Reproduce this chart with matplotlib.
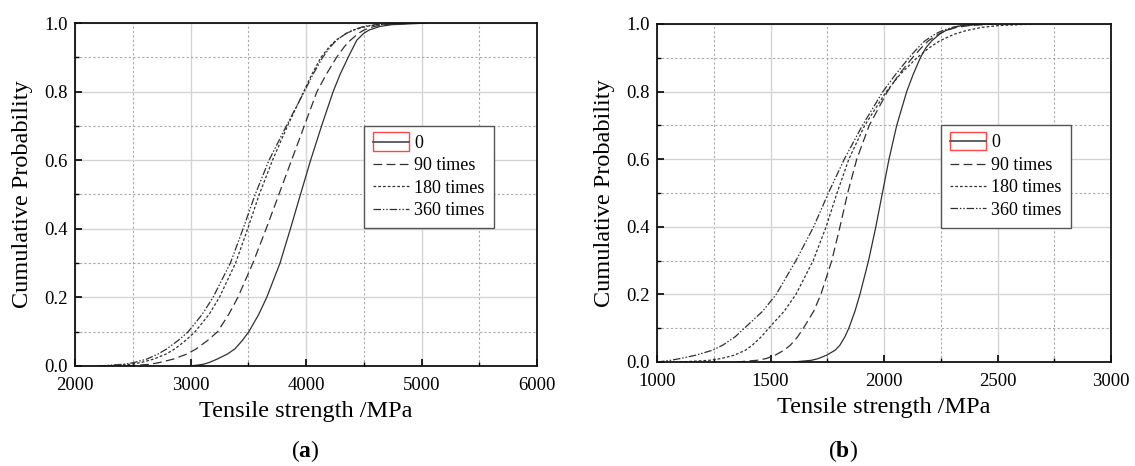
import matplotlib
matplotlib.use("Agg")
import matplotlib.pyplot as plt
from matplotlib.lines import Line2D
from matplotlib.patches import Rectangle
from matplotlib.legend_handler import HandlerBase
from matplotlib.ticker import MultipleLocator

plt.rcParams['font.family'] = ['Liberation Serif', 'DejaVu Serif']
plt.rcParams['mathtext.fontset'] = 'custom'
plt.rcParams['mathtext.rm'] = 'Liberation Serif'
plt.rcParams['mathtext.bf'] = 'Liberation Serif:bold'

# ---- data ----
series_labels = ["0", "90 times", "180 times", "360 times"]
prob_levels = [0.0, 0.005, 0.01, 0.02, 0.035, 0.05, 0.075, 0.1, 0.15, 0.2,
               0.3, 0.4, 0.5, 0.6, 0.7, 0.8, 0.85, 0.9, 0.93, 0.95, 0.97,
               0.98, 0.99, 0.995, 1.0]

# panel (a): tensile strength (MPa) at each probability level
a_0 = [3000, 3110, 3160, 3230, 3320, 3385, 3450, 3505, 3590, 3660,
       3775, 3865, 3952, 4040, 4135, 4235, 4295, 4365, 4410, 4440, 4500,
       4550, 4640, 4740, 5050]
a_90 = [2450, 2650, 2730, 2850, 2970, 3050, 3150, 3235, 3330, 3410,
        3540, 3655, 3765, 3875, 3985, 4095, 4175, 4265, 4330, 4385, 4455,
        4505, 4590, 4680, 4950]
a_180 = [2250, 2480, 2570, 2680, 2790, 2865, 2960, 3040, 3160, 3250,
         3390, 3495, 3595, 3710, 3840, 3980, 4050, 4130, 4200, 4260, 4350,
         4420, 4520, 4620, 4900]
a_360 = [2200, 2420, 2510, 2620, 2720, 2795, 2895, 2980, 3100, 3195,
         3345, 3455, 3560, 3680, 3830, 3985, 4060, 4145, 4210, 4265, 4350,
         4410, 4500, 4600, 4850]

# panel (b)
b_0 = [1600, 1680, 1710, 1747, 1785, 1806, 1828, 1845, 1872, 1894,
       1932, 1964, 1993, 2022, 2056, 2100, 2128, 2160, 2185, 2210, 2245,
       2270, 2310, 2340, 2420]
b_90 = [1350, 1440, 1480, 1520, 1560, 1588, 1620, 1645, 1690, 1722,
        1770, 1806, 1840, 1880, 1935, 2015, 2065, 2125, 2165, 2195, 2240,
        2270, 2320, 2370, 2480]
b_180 = [1100, 1230, 1280, 1340, 1390, 1420, 1460, 1492, 1560, 1612,
         1688, 1745, 1793, 1845, 1915, 2010, 2070, 2145, 2200, 2245, 2310,
         2360, 2430, 2500, 2650]
b_360 = [1000, 1060, 1100, 1170, 1245, 1290, 1345, 1385, 1465, 1525,
         1612, 1690, 1755, 1825, 1905, 1995, 2050, 2110, 2150, 2180, 2225,
         2255, 2300, 2340, 2450]

a_xticks = [2000, 3000, 4000, 5000, 6000]
b_xticks = [1000, 1500, 2000, 2500, 3000]
y_ticks = [0.0, 0.2, 0.4, 0.6, 0.8, 1.0]

line_color = '#303030'
styles = [dict(linestyle='-'),
          dict(linestyle=(0, (7, 3.5))),
          dict(linestyle=(0, (2.2, 1.6))),
          dict(linestyle=(0, (6, 1.5, 1.2, 1.5, 1.2, 1.5)))]


class FramedLineHandler(HandlerBase):
    """Legend key: a solid line inside a red outline box."""
    def create_artists(self, legend, orig_handle, xdescent, ydescent,
                       width, height, fontsize, trans):
        rh = height * 1.45
        y0 = -ydescent + height / 2 - rh / 2
        rect = Rectangle((-xdescent, y0), width, rh, facecolor='none',
                         edgecolor='#ff4545', linewidth=1.0, transform=trans)
        yc = -ydescent + height / 2
        ln = Line2D([-xdescent, -xdescent + width], [yc, yc], color='#555555',
                    linewidth=1.3, transform=trans)
        return [rect, ln]


fig = plt.figure(figsize=(11.35, 4.66), dpi=100)
W, H = 1135, 466

def make_axes(left, right, top, bottom):
    return fig.add_axes([left / W, 1 - bottom / H, (right - left) / W, (bottom - top) / H])

ax_a = make_axes(75, 537, 23, 366)
ax_b = make_axes(657, 1111, 24, 362)

panels = [
    (ax_a, [a_0, a_90, a_180, a_360], a_xticks, 500, 305, r"($\mathbf{a}$)"),
    (ax_b, [b_0, b_90, b_180, b_360], b_xticks, 250, 843, r"($\mathbf{b}$)"),
]

for ax, data, xt, minor_step, tag_x, tag in panels:
    for vals, st, lab in zip(data, styles, series_labels):
        ax.plot(vals, prob_levels, color=line_color, linewidth=0.9, label=lab, **st)
    ax.set_xlim(xt[0], xt[-1])
    ax.set_ylim(0, 1.0)
    ax.set_xticks(xt)
    ax.set_yticks(y_ticks)
    ax.set_yticklabels([f"{v:.1f}" for v in y_ticks])
    ax.xaxis.set_minor_locator(MultipleLocator(minor_step))
    ax.yaxis.set_minor_locator(MultipleLocator(0.1))
    ax.grid(which='major', color='#d4d4d4', linestyle='-', linewidth=1.0)
    ax.grid(which='minor', color='#a8a8a8', linestyle=(0, (2, 2)), linewidth=0.8)
    ax.set_axisbelow(True)
    ax.tick_params(which='both', direction='in', top=False, right=False,
                   labelsize=13.5)
    ax.tick_params(axis='x', pad=8)
    ax.tick_params(axis='y', pad=5)
    ax.tick_params(which='major', length=5, width=1.2)
    ax.tick_params(which='minor', length=3, width=1.0)
    for sp in ax.spines.values():
        sp.set_linewidth(1.3)
        sp.set_color('#111111')
    ax.set_xlabel("Tensile strength /MPa", fontsize=17.5, labelpad=5)
    ax.set_ylabel("Cumulative Probability", fontsize=17.5, labelpad=8)

    framed = object()
    handles = [framed] + [Line2D([], [], color=line_color, linewidth=0.9, **st)
                          for st in styles[1:]]
    leg = ax.legend(handles, series_labels, loc='upper left',
                    bbox_to_anchor=(0.625, 0.70), fontsize=13,
                    handler_map={framed: FramedLineHandler()},
                    frameon=True, fancybox=False, framealpha=1,
                    edgecolor='#555555', handlelength=2.0, handletextpad=0.3,
                    labelspacing=0.3, borderpad=0.5, borderaxespad=0)
    leg.get_frame().set_linewidth(1.0)

    fig.text(tag_x / W, 1 - 451 / H, tag, ha='center', va='center', fontsize=17)

fig.savefig("out.png", dpi=100)
